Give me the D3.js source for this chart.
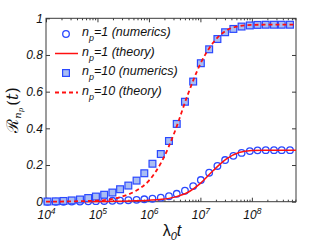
<!DOCTYPE html>
<html>
<head>
<meta charset="utf-8">
<script src="https://cdn.jsdelivr.net/npm/d3@7"></script>
<style>
  html, body { margin: 0; padding: 0; background: #fff; }
  svg { display: block; }
  text { font-family: "Liberation Sans", Arial, sans-serif; }
</style>
</head>
<body>
<svg id="chart" width="327" height="246"></svg>
<script>
// ---- data ----
const tNumerics = [1.07e4, 1.55e4, 2.19e4, 3.16e4, 4.57e4, 6.61e4, 9.33e4, 1.35e5, 1.95e5, 2.75e5,
  3.98e5, 5.75e5, 8.13e5, 1.17e6, 1.70e6, 2.45e6, 3.47e6, 5.01e6, 7.24e6, 1.02e7,
  1.48e7, 2.14e7, 3.02e7, 4.37e7, 6.31e7, 9.12e7, 1.29e8, 1.86e8, 2.69e8, 3.80e8, 5.50e8];
const np1Numerics = [0.000, 0.000, 0.000, 0.001, 0.001, 0.002, 0.003, 0.004, 0.005, 0.006,
  0.008, 0.010, 0.013, 0.016, 0.022, 0.030, 0.043, 0.060, 0.085, 0.118,
  0.158, 0.195, 0.227, 0.250, 0.266, 0.276, 0.280, 0.281, 0.281, 0.281, 0.281];
const np10Numerics = [0.001, 0.002, 0.004, 0.007, 0.012, 0.020, 0.028, 0.038, 0.050, 0.068,
  0.088, 0.115, 0.155, 0.207, 0.260, 0.331, 0.424, 0.545, 0.655, 0.755,
  0.831, 0.887, 0.924, 0.942, 0.955, 0.961, 0.964, 0.965, 0.965, 0.965, 0.965];

const tTheory = [1e4, 3.16e4, 1e5, 1.78e5, 3.16e5, 5.62e5, 1e6, 1.78e6, 3.16e6, 5.62e6,
  1e7, 1.78e7, 3.16e7, 5.62e7, 1e8, 1.78e8, 3.16e8, 7.2e8];
const np1Theory = [0.000, 0.000, 0.001, 0.002, 0.003, 0.005, 0.008, 0.013, 0.025, 0.050,
  0.100, 0.170, 0.232, 0.268, 0.279, 0.281, 0.281, 0.281];
const np10Theory = [0.000, 0.002, 0.006, 0.013, 0.030, 0.060, 0.115, 0.220, 0.380, 0.580,
  0.752, 0.868, 0.933, 0.957, 0.964, 0.965, 0.965, 0.965];

const xMajorTicks = [1e4, 1e5, 1e6, 1e7, 1e8];
const xTickExponents = ["4", "5", "6", "7", "8"];
const yTicks = [0, 0.2, 0.4, 0.6, 0.8, 1];
const yTickLabels = ["0", "0.2", "0.4", "0.6", "0.8", "1"];
const legendLabels = [
  { main: "n", sub: "p", rest: "=1 (numerics)" },
  { main: "n", sub: "p", rest: "=1 (theory)" },
  { main: "n", sub: "p", rest: "=10 (numerics)" },
  { main: "n", sub: "p", rest: "=10 (theory)" }
];

// ---- layout ----
const L = 46, R = 296, T = 18.3, B = 201.7;
const blueEdge = "#2a48ff", squareFill = "#a9bdf3", red = "#ff1010", axisCol = "#3a3a3a";

const svg = d3.select("#chart");
const x = d3.scaleLog().domain([1e4, 7.2e8]).range([L, R]);
const y = d3.scaleLinear().domain([0, 1]).range([B, T]);

// minor ticks for log axis
const minorTicks = [];
for (let e = 4; e <= 8; e++) for (let m = 2; m <= 9; m++) {
  const v = m * Math.pow(10, e);
  if (v < x.domain()[1]) minorTicks.push(v);
}

// frame
svg.append("rect").attr("x", L).attr("y", T).attr("width", R - L).attr("height", B - T)
  .attr("fill", "#fff").attr("stroke", axisCol).attr("stroke-width", 1);

function styleAxis(g) {
  g.selectAll(".domain").remove();
  g.selectAll("line").attr("stroke", axisCol).attr("stroke-width", 1);
}

// bottom axis major with labels
const xAxisB = svg.append("g").attr("transform", `translate(0,${B})`)
  .call(d3.axisBottom(x).tickValues(xMajorTicks).tickSizeInner(-4).tickSizeOuter(0).tickPadding(9).tickFormat(() => ""))
  .call(styleAxis);
xAxisB.selectAll(".tick text").each(function(d, i) {
  const t = d3.select(this);
  t.text(null).attr("font-size", 12).attr("font-style", "italic").attr("fill", "#111")
   .attr("font-family", "'Liberation Sans', Arial, sans-serif").attr("text-anchor", "middle");
  t.append("tspan").text("10");
  t.append("tspan").attr("dy", -5).attr("font-size", 8.5).text(xTickExponents[i]);
});
// bottom minor
svg.append("g").attr("transform", `translate(0,${B})`)
  .call(d3.axisBottom(x).tickValues(minorTicks).tickSizeInner(-2).tickSizeOuter(0).tickFormat(() => ""))
  .call(styleAxis);
// top major + minor
svg.append("g").attr("transform", `translate(0,${T})`)
  .call(d3.axisTop(x).tickValues(xMajorTicks).tickSizeInner(-4).tickSizeOuter(0).tickFormat(() => ""))
  .call(styleAxis);
svg.append("g").attr("transform", `translate(0,${T})`)
  .call(d3.axisTop(x).tickValues(minorTicks).tickSizeInner(-2).tickSizeOuter(0).tickFormat(() => ""))
  .call(styleAxis);

// left axis
svg.append("g").attr("transform", `translate(${L},0)`)
  .call(d3.axisLeft(y).tickValues(yTicks).tickSizeInner(-4).tickSizeOuter(0).tickPadding(3)
    .tickFormat((d, i) => yTickLabels[i]))
  .call(styleAxis)
  .selectAll("text").attr("font-size", 12).attr("font-style", "italic").attr("fill", "#111")
  .attr("font-family", "'Liberation Sans', Arial, sans-serif");
// right axis
svg.append("g").attr("transform", `translate(${R},0)`)
  .call(d3.axisRight(y).tickValues(yTicks).tickSizeInner(-4).tickSizeOuter(0).tickFormat(() => ""))
  .call(styleAxis);

// ---- series ----
const num1 = tNumerics.map((t, i) => ({ t, v: np1Numerics[i] }));
const num10 = tNumerics.map((t, i) => ({ t, v: np10Numerics[i] }));
const th1 = tTheory.map((t, i) => ({ t, v: np1Theory[i] }));
const th10 = tTheory.map((t, i) => ({ t, v: np10Theory[i] }));

const line = d3.line().x(d => x(d.t)).y(d => y(d.v)).curve(d3.curveMonotoneX);
const plot = svg.append("g");

plot.selectAll("circle.n1").data(num1).join("circle")
  .attr("cx", d => x(d.t)).attr("cy", d => y(d.v)).attr("r", 3.3)
  .attr("fill", "none").attr("stroke", blueEdge).attr("stroke-width", 1.3);

plot.append("path").datum(th1).attr("d", line)
  .attr("fill", "none").attr("stroke", red).attr("stroke-width", 1.5);

const sq = 6.8;
plot.selectAll("rect.n10").data(num10).join("rect")
  .attr("x", d => x(d.t) - sq / 2).attr("y", d => y(d.v) - sq / 2)
  .attr("width", sq).attr("height", sq)
  .attr("fill", squareFill).attr("stroke", blueEdge).attr("stroke-width", 1.2);

plot.append("path").datum(th10).attr("d", line)
  .attr("fill", "none").attr("stroke", red).attr("stroke-width", 1.8)
  .attr("stroke-dasharray", "4,3");

// ---- legend ----
const legRows = [34, 53.5, 73, 92.5];
const leg = svg.append("g");
legRows.forEach((ry, i) => {
  if (i === 0) {
    leg.append("circle").attr("cx", 66).attr("cy", ry).attr("r", 3.3)
      .attr("fill", "none").attr("stroke", blueEdge).attr("stroke-width", 1.3);
  } else if (i === 1) {
    leg.append("line").attr("x1", 55).attr("x2", 78).attr("y1", ry).attr("y2", ry)
      .attr("stroke", red).attr("stroke-width", 1.5);
  } else if (i === 2) {
    leg.append("rect").attr("x", 66 - sq / 2).attr("y", ry - sq / 2).attr("width", sq).attr("height", sq)
      .attr("fill", squareFill).attr("stroke", blueEdge).attr("stroke-width", 1.2);
  } else {
    leg.append("line").attr("x1", 55).attr("x2", 78).attr("y1", ry).attr("y2", ry)
      .attr("stroke", red).attr("stroke-width", 1.8).attr("stroke-dasharray", "4,3");
  }
  const lab = legendLabels[i];
  const tx = leg.append("text").attr("x", 82).attr("y", ry + 2)
    .attr("font-size", 12.5).attr("font-style", "italic").attr("fill", "#111");
  tx.append("tspan").text(lab.main);
  tx.append("tspan").attr("dy", 5).attr("font-size", 9).text(lab.sub);
  tx.append("tspan").attr("dy", -5).attr("font-size", 12.5).text(lab.rest);
});

// ---- axis titles ----
const xt = svg.append("text").attr("x", 172).attr("y", 236).attr("text-anchor", "middle")
  .attr("font-size", 16).attr("fill", "#111");
xt.append("tspan").text("λ");
xt.append("tspan").attr("dy", 4).attr("font-size", 11).attr("font-style", "italic").text("0");
xt.append("tspan").attr("dy", -4).attr("font-style", "italic").text("t");

const yt = svg.append("text").attr("transform", "translate(18,110) rotate(-90)")
  .attr("text-anchor", "middle").attr("font-size", 16).attr("fill", "#111");
yt.append("tspan").attr("font-family", "'DejaVu Serif', serif").text("ℛ");
yt.append("tspan").attr("dy", 3).attr("font-size", 10).attr("font-style", "italic")
  .attr("font-family", "'DejaVu Serif', serif").text("n");
yt.append("tspan").attr("dy", 2).attr("font-size", 7).attr("font-style", "italic")
  .attr("font-family", "'DejaVu Serif', serif").text("p");
yt.append("tspan").attr("dy", -5).attr("dx", 2).attr("font-size", 15)
  .attr("font-family", "'DejaVu Serif', serif").text("(");
yt.append("tspan").attr("font-style", "italic").attr("font-family", "'DejaVu Serif', serif").text("t");
yt.append("tspan").attr("font-family", "'DejaVu Serif', serif").text(")");
</script>
</body>
</html>
